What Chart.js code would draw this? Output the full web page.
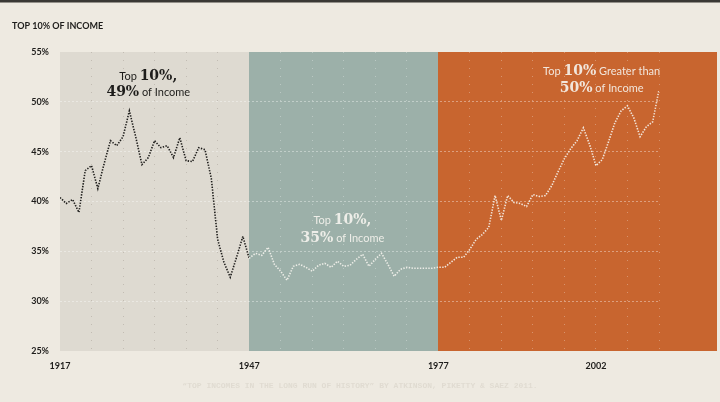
<!DOCTYPE html>
<html>
<head>
<meta charset="utf-8">
<script src="https://cdn.jsdelivr.net/npm/chart.js@4.4.1/dist/chart.umd.min.js"></script>
<style>
  html, body { margin: 0; padding: 0; background: #eeeae1; }
  canvas { display: block; }
</style>
</head>
<body>
<canvas id="incomeChart" width="720" height="402"></canvas>
<script>
// Top 10% income share, US
const firstYear = 1917;
const shares1917to1946 = [40.4, 39.8, 40.2, 38.9, 43.1, 43.6, 41.3, 43.8, 46.1, 45.6,
                          46.5, 49.1, 46.5, 43.7, 44.4, 46.1, 45.4, 45.6, 44.4, 46.4,
                          44.1, 44.0, 45.4, 45.2, 42.3, 36.2, 33.9, 32.4, 34.4, 36.5];
const shares1947to1976 = [34.3, 34.8, 34.6, 35.4, 33.7, 33.0, 32.1, 33.5, 33.7, 33.4,
                          33.0, 33.6, 33.8, 33.4, 34.0, 33.5, 33.6, 34.2, 34.7, 33.5,
                          34.2, 34.8, 33.7, 32.5, 33.2, 33.4, 33.3, 33.3, 33.3, 33.3];
const shares1977to2012 = [33.4, 33.4, 33.9, 34.4, 34.4, 35.2, 36.2, 36.7, 37.4, 40.6,
                          38.1, 40.6, 39.9, 39.8, 39.5, 40.7, 40.5, 40.6, 41.6, 43.0,
                          44.3, 45.3, 46.1, 47.4, 45.7, 43.6, 44.2, 46.0, 47.9, 49.1,
                          49.6, 48.4, 46.5, 47.5, 48.0, 51.2];
const eraStarts = [1917, 1947, 1977];
const xTickLabels = [1917, 1947, 1977, 2002];
const yTicks = [25, 30, 35, 40, 45, 50, 55];

const allShares = shares1917to1946.concat(shares1947to1976, shares1977to2012);
const points = allShares.map((v, i) => ({ x: firstYear + i, y: v }));
const lastYear = firstYear + allShares.length - 1;

const SANS = "Lato, 'Open Sans', sans-serif";
const SERIF = "'DejaVu Serif', 'Liberation Serif', serif";
const DARK = "#1e1d1b";
const LIGHT = "rgba(246,244,238,0.9)";

// annotation blocks: anchored to data coordinates
const notes = [
  { x: 1931, color: DARK, lines: [
      { y: 52.2, parts: [["Top ", "sans"], ["10%,", "serif"]] },
      { y: 50.6, parts: [["49%", "serif"], [" of Income", "sans"]] } ] },
  { x: 1961.8, color: LIGHT, lines: [
      { y: 37.7, parts: [["Top ", "sans"], ["10%,", "serif"]] },
      { y: 35.9, parts: [["35%", "serif"], [" of Income", "sans"]] } ] },
  { x: 2002.9, color: LIGHT, lines: [
      { y: 52.7, parts: [["Top ", "sans"], ["10%", "serif"], [" Greater than", "sans"]] },
      { y: 51.0, parts: [["50%", "serif"], [" of Income", "sans"]] } ] }
];

const bandColors = ["#dedad1", "#9cb0a9", "#c8652f"];

const backdrop = {
  id: "backdrop",
  beforeDraw(chart) {
    const { ctx, chartArea, scales } = chart;
    ctx.save();
    ctx.fillStyle = "#eeeae1";
    ctx.fillRect(0, 0, chart.width, chart.height);
    ctx.fillStyle = "#3a3935";
    ctx.fillRect(0, 0, chart.width, 2.5);
    const top = Math.round(chartArea.top), bottom = Math.round(chartArea.bottom);
    eraStarts.forEach((yr, i) => {
      const x0 = Math.round(scales.x.getPixelForValue(yr));
      const x1 = i < eraStarts.length - 1 ? Math.round(scales.x.getPixelForValue(eraStarts[i + 1])) : chart.width - 3;
      ctx.fillStyle = bandColors[i];
      ctx.fillRect(x0, top, x1 - x0, bottom - top);
    });
    // titles
    ctx.fillStyle = DARK;
    ctx.font = "bold 9px " + SANS;
    ctx.textBaseline = "middle";
    ctx.fillText("TOP 10% OF INCOME", 12, 26);
    ctx.fillStyle = "rgba(90,75,60,0.09)";
    ctx.font = "bold 8px 'Liberation Mono', monospace";
    ctx.textAlign = "center";
    ctx.fillText("\u201CTOP INCOMES IN THE LONG RUN OF HISTORY\u201D BY ATKINSON, PIKETTY & SAEZ 2011.", 360, 386);
    ctx.restore();
  }
};

const labels = {
  id: "labels",
  afterDatasetsDraw(chart) {
    const { ctx, scales } = chart;
    const fonts = { sans: "11px " + SANS, serif: "bold 14px " + SERIF };
    ctx.save();
    ctx.textBaseline = "alphabetic";
    ctx.textAlign = "left";
    notes.forEach(n => {
      ctx.fillStyle = n.color;
      const cx = scales.x.getPixelForValue(n.x);
      n.lines.forEach(line => {
        const widths = line.parts.map(p => { ctx.font = fonts[p[1]]; return ctx.measureText(p[0]).width; });
        let x = cx - widths.reduce((a, b) => a + b, 0) / 2;
        const y = scales.y.getPixelForValue(line.y);
        line.parts.forEach((p, i) => {
          ctx.font = fonts[p[1]];
          ctx.fillText(p[0], x, y);
          x += widths[i];
        });
      });
    });
    ctx.restore();
  }
};

function xGridColor(c) {
  if (!c.tick) return "rgba(0,0,0,0)";
  const v = c.tick.value;
  if (eraStarts.includes(v)) return "rgba(0,0,0,0)";
  return v < eraStarts[1] ? "rgba(110,100,90,0.25)" : "rgba(255,255,255,0.3)";
}

new Chart(document.getElementById("incomeChart"), {
  type: "line",
  data: {
    datasets: [{
      data: points,
      borderWidth: 1.6,
      borderDash: [1.4, 1.4],
      pointRadius: 0,
      tension: 0,
      segment: {
        borderColor: c => c.p0.parsed.x >= eraStarts[1] ? LIGHT : DARK
      }
    }]
  },
  options: {
    responsive: false,
    animation: false,
    layout: { padding: { top: 52, right: 61, left: 0, bottom: 0 } },
    plugins: { legend: { display: false }, tooltip: { enabled: false } },
    scales: {
      x: {
        type: "linear",
        min: firstYear,
        max: lastYear,
        afterFit: s => { s.height = 51; },
        border: { display: false, dash: [1, 7] },
        grid: {
          drawTicks: false,
          lineWidth: 1,
          color: xGridColor
        },
        ticks: {
          stepSize: 5,
          autoSkip: false,
          maxRotation: 0,
          padding: 10,
          color: DARK,
          font: { family: SANS, size: 9, weight: "bold" },
          callback: v => xTickLabels.includes(v) ? String(v) : ""
        }
      },
      y: {
        min: 25,
        max: 55,
        afterFit: s => { s.width = 60; },
        afterBuildTicks: s => { s.ticks = yTicks.map(v => ({ value: v })); },
        border: { display: false, dash: [2, 2] },
        grid: {
          drawTicks: false,
          color: c => c.tick && (c.tick.value === 25 || c.tick.value === 55) ? "rgba(0,0,0,0)" : "rgba(255,255,255,0.38)"
        },
        ticks: {
          padding: 11,
          color: DARK,
          font: { family: SANS, size: 9, weight: "bold" },
          callback: v => v + "%"
        }
      }
    }
  },
  plugins: [backdrop, labels]
});
</script>
</body>
</html>
